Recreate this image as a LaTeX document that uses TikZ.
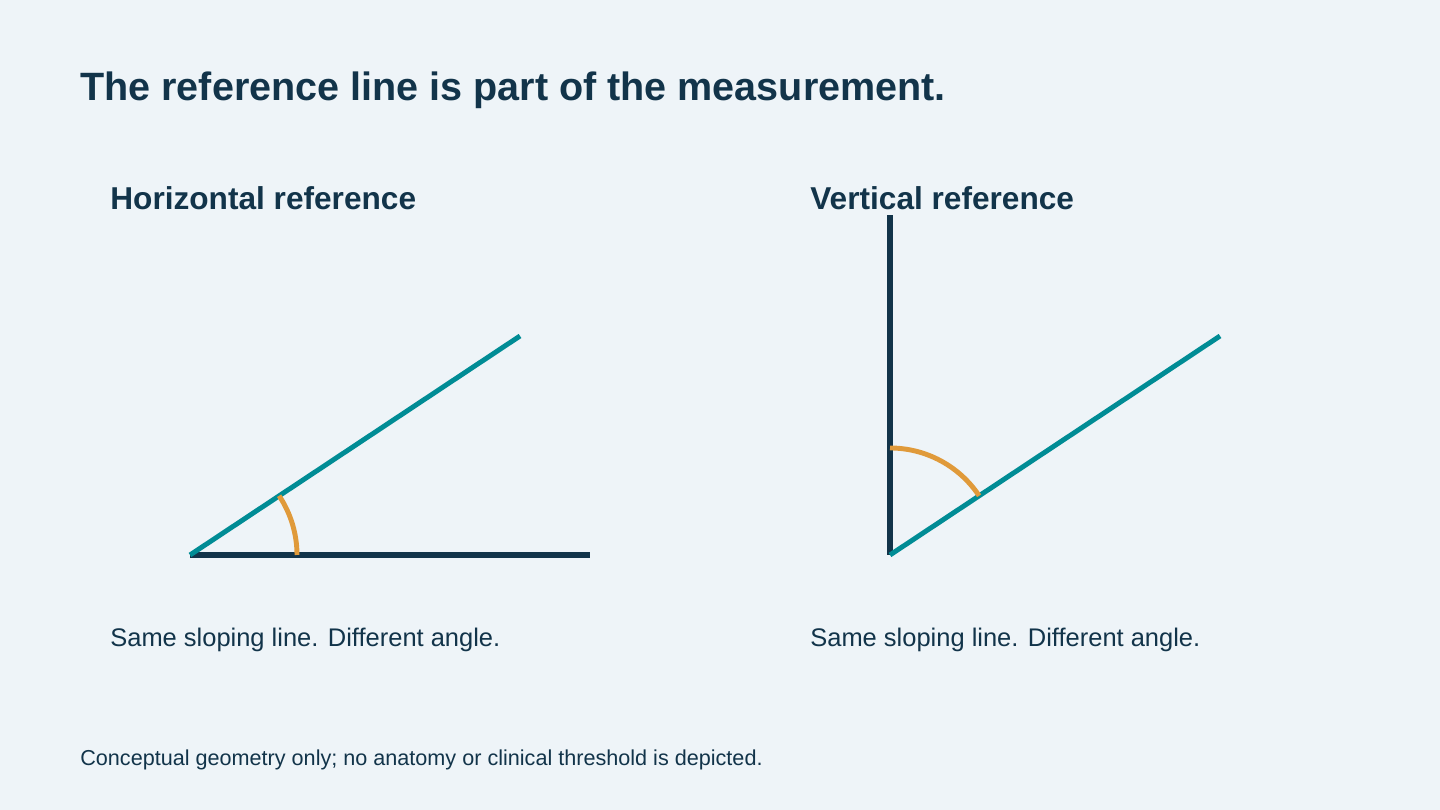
\documentclass[tikz,border=0pt]{standalone}
\usepackage{fontspec}
\setmainfont{Liberation Sans}
\usetikzlibrary{calc}
\definecolor{bg}{HTML}{EEF4F8}
\definecolor{navy}{HTML}{12344A}
\definecolor{teal}{HTML}{008C95}
\definecolor{amber}{HTML}{E09A3A}
\begin{document}
\begin{tikzpicture}[x=0.02cm,y=0.02cm,
  ref/.style={navy,line width=3.4pt},
  slope/.style={teal,line width=2.8pt},
  ang/.style={amber,line width=2.8pt},
  txt/.style={anchor=west,text=navy,inner sep=0pt}]
\fill[bg] (0,0) rectangle (1440,810);
\useasboundingbox (0,0) rectangle (1440,810);
\node[txt,font=\bfseries\fontsize{22.5}{26}\selectfont] (title) at (80,720) {The reference line is part of the measurement.};
\node[txt,font=\bfseries\fontsize{18}{21}\selectfont] (h1) at (110,612) {Horizontal reference};
\node[txt,font=\bfseries\fontsize{18}{21}\selectfont] (h2) at (810,612) {Vertical reference};
% left
\coordinate (lo) at (190,255);
\coordinate (lh) at (590,255);
\coordinate (ls) at (520,474);
\draw[ref] (lo) -- (lh);
\draw[slope] (lo) -- (ls);
\draw[ang] ($(lo)+(107,0)$) arc[start angle=0,end angle=33.6,radius=107];
% right
\coordinate (ro) at (890,255);
\coordinate (rv) at (890,595);
\coordinate (rs) at (1220,474);
\draw[ref] (ro) -- (rv);
\draw[slope] (ro) -- (rs);
\draw[ang] ($(ro)+(0,107)$) arc[start angle=90,end angle=33.6,radius=107];
\node[txt,font=\fontsize{14.5}{17}\selectfont] (c1) at (110,170) {Same sloping line. Different angle.};
\node[txt,font=\fontsize{14.5}{17}\selectfont] (c2) at (810,170) {Same sloping line. Different angle.};
\node[txt,font=\fontsize{12.3}{15}\selectfont] (foot) at (80,50) {Conceptual geometry only; no anatomy or clinical threshold is depicted.};
\end{tikzpicture}
\end{document}
